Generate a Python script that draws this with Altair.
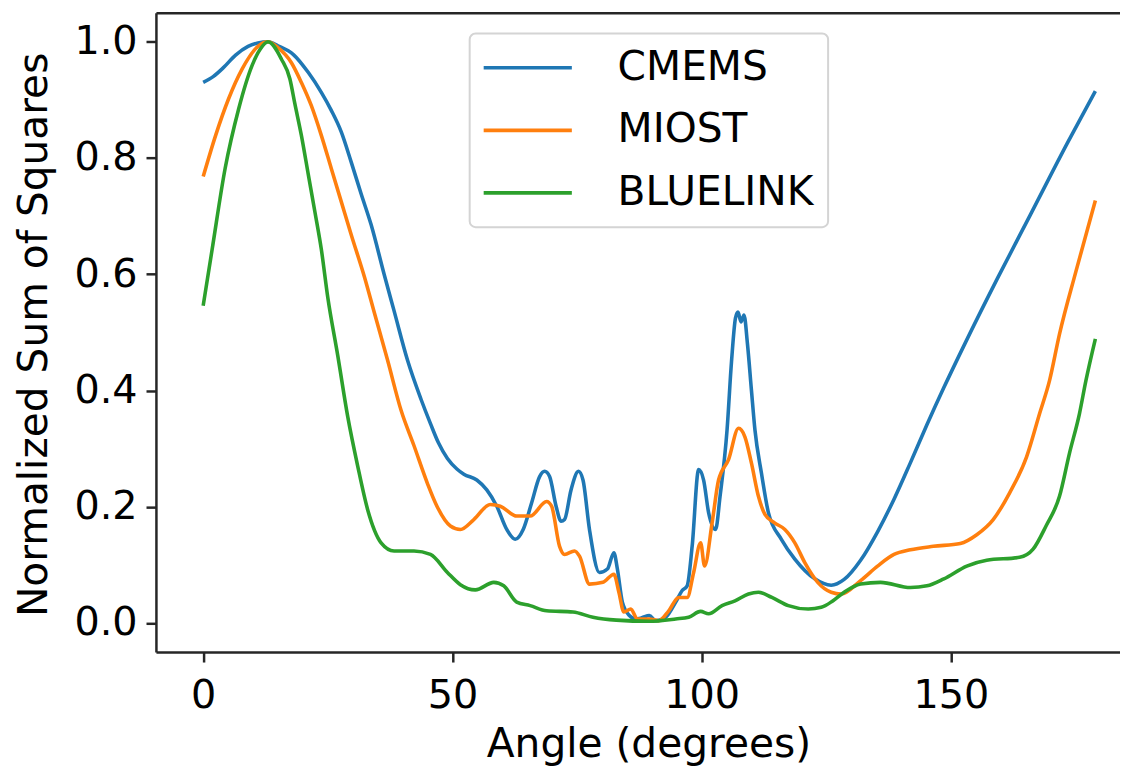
import altair as alt
import pandas as pd

series_names = ["CMEMS", "MIOST", "BLUELINK"]
series_colors = ["#1f77b4", "#ff7f0e", "#2ca02c"]

x_ticks = [0, 50, 100, 150]
y_ticks = [0.0, 0.2, 0.4, 0.6, 0.8, 1.0]

cmems_angle = [0, 2, 4, 6.5, 9, 11, 13, 15, 18.1, 21.1, 23.7, 25.7, 27.7, 29.7, 31.7, 33.7, 36.3,
               38.3, 41, 43.7, 45.6, 47.2, 49, 50.9, 52.3, 54.9, 56.9, 58.9, 60.9, 62.6, 64.2,
               65.9, 67.5, 68.5, 69.5, 70.8, 71.8, 72.5, 73.8, 75.3, 76.2, 77.5, 79.5, 81.1, 82.4,
               83.1, 84.1, 85.5, 86.8, 88, 89.5, 90.8, 92.8, 94.8, 96.1, 97.1, 98.1, 99.4, 100.4,
               101.4, 102.8, 103.7, 105.1, 106, 106.8, 107.3, 107.9, 108.5, 109.2, 110, 110.7, 112,
               113.4, 116, 118.7, 122.7, 126, 128.6, 131.9, 135.3, 138.6, 141.9, 145.2, 148.6,
               152.9, 159.3, 166, 173.4, 179]
cmems_value = [0.930, 0.940, 0.955, 0.977, 0.992, 0.998, 1.000, 0.993, 0.978, 0.947, 0.913, 0.882,
               0.845, 0.793, 0.738, 0.685, 0.600,
               0.537, 0.452, 0.385, 0.343, 0.310, 0.283, 0.265, 0.256, 0.246, 0.229, 0.201, 0.161,
               0.144, 0.161,
               0.207, 0.252, 0.261, 0.252, 0.201, 0.175, 0.178, 0.229, 0.261, 0.246, 0.161, 0.087,
               0.093, 0.121,
               0.093, 0.036, 0.013, 0.007, 0.009, 0.013, 0.004, 0.010, 0.036, 0.056, 0.064, 0.132,
               0.264, 0.246,
               0.190, 0.161, 0.218, 0.332, 0.450, 0.525, 0.535, 0.518, 0.530, 0.480, 0.400, 0.332,
               0.258,
               0.190, 0.144, 0.110, 0.076, 0.065, 0.075, 0.108, 0.157, 0.213, 0.276, 0.341, 0.405,
               0.482, 0.592, 0.703, 0.826, 0.915]

miost_angle = [0, 2.5, 5.1, 7.8, 11.1, 13, 15, 17.7, 19.7, 21.7, 23.7, 25.7, 27.7, 29.7, 32.4,
               34.3, 37, 39.7, 42.3, 45, 46.9, 49.6, 51.6, 54.3, 57.6, 59.6, 62.9, 65.6, 68.9,
               69.9, 71.5, 72.5, 74.5, 75.5, 77.5, 80.2, 82.4, 83.4, 84.4, 85.8, 87.1, 89.5, 91.4,
               93.4, 95.4, 97.1, 98.4, 99.8, 100.6, 102.1, 103.4, 105.4, 107.4, 108.7, 110, 111.4,
               112.7, 114.7, 116.7, 118.7, 120.7, 123.3, 126, 128, 131.9, 135.3, 138.6, 141.9,
               146.5, 151.9, 155.2, 158.5, 161.8, 165.2, 167.8, 169.8, 171.8, 175.1, 179]
miost_value = [0.768, 0.839, 0.902, 0.953, 0.993, 1.000, 0.990, 0.964, 0.930, 0.890, 0.839, 0.782,
               0.725, 0.668, 0.594,
               0.535, 0.452, 0.366, 0.305, 0.240, 0.201, 0.167, 0.161, 0.178, 0.204, 0.201, 0.184,
               0.184, 0.209,
               0.201, 0.132, 0.118, 0.124, 0.115, 0.067, 0.070, 0.084, 0.053, 0.019, 0.024, 0.007,
               0.007, 0.004,
               0.021, 0.044, 0.044, 0.087, 0.138, 0.098, 0.172, 0.246, 0.281, 0.335, 0.320, 0.275,
               0.218,
               0.187, 0.172, 0.161, 0.138, 0.104, 0.070, 0.053, 0.050, 0.073, 0.098, 0.118, 0.126,
               0.132, 0.137, 0.152, 0.178, 0.224, 0.286, 0.360, 0.417, 0.497, 0.605, 0.727]

bluelink_angle = [0, 1.8, 4.4, 7.1, 9.8, 11.5, 13, 15.7, 17.4, 18.4, 19.7, 21.1, 22.4, 23.7, 25,
                  27, 29, 31, 33, 35.7, 38.3, 42.3, 45.6, 49, 51.6, 54.6, 58.3, 60.3, 62.9, 65.6,
                  68.9, 74.2, 78.2, 82.9, 89.5, 94.8, 97.4, 99.8, 101.4, 104.1, 106.7, 109.4,
                  111.4, 114.1, 117.4, 121.4, 124, 126.3, 128.6, 131.9, 135.9, 141.9, 145.2,
                  148.6, 153.2, 157.2, 163.8, 166.5, 169.1, 171.8, 173.8, 175.8, 177.1, 179]
bluelink_value = [0.546, 0.643, 0.782, 0.884, 0.959, 0.988, 1.000, 0.970, 0.936, 0.893, 0.839,
                  0.771, 0.708, 0.643, 0.560,
                  0.460, 0.355, 0.270, 0.195, 0.138, 0.124, 0.124, 0.118, 0.087, 0.066, 0.057,
                  0.070, 0.064, 0.036, 0.030,
                  0.021, 0.019, 0.010, 0.005, 0.003, 0.007, 0.010, 0.020, 0.016, 0.030, 0.038,
                  0.050,
                  0.053, 0.044, 0.030, 0.024, 0.027, 0.038, 0.053, 0.067, 0.070, 0.061, 0.064,
                  0.076, 0.098, 0.108, 0.113, 0.127, 0.167, 0.218, 0.292, 0.360, 0.417, 0.489]

rows = []
for name, angs, vals in [("CMEMS", cmems_angle, cmems_value),
                         ("MIOST", miost_angle, miost_value),
                         ("BLUELINK", bluelink_angle, bluelink_value)]:
    assert len(angs) == len(vals), name
    for i, (a, v) in enumerate(zip(angs, vals)):
        rows.append({"series": name, "angle": a, "value": v, "idx": i})
df = pd.DataFrame(rows)

FONT = "DejaVu Sans"
SPINE = "#262626"

x_scale = alt.Scale(domain=[-9.48, 183.94], nice=False, zero=False)
y_scale = alt.Scale(domain=[-0.05, 1.05], nice=False, zero=False)

lines = alt.Chart(df).mark_line(strokeWidth=3.6, interpolate="monotone").encode(
    x=alt.X("angle:Q", scale=x_scale,
            axis=alt.Axis(values=x_ticks, format="d", title="Angle (degrees)", grid=False,
                          domainColor=SPINE, domainWidth=2.5, tickColor=SPINE, tickWidth=2.5,
                          tickSize=10, labelFontSize=40, labelPadding=14, labelColor="black",
                          labelFont=FONT, titleFont=FONT,
                          titleFontSize=41, titleX=496, titleY=105, titleBaseline="alphabetic",
                          titleColor="black", titleFontWeight="normal", labelFlush=False)),
    y=alt.Y("value:Q", scale=y_scale,
            axis=alt.Axis(values=y_ticks, format=".1f", title="Normalized Sum of Squares",
                          grid=False, domainColor=SPINE, domainWidth=2.5, tickColor=SPINE,
                          tickWidth=2.5, tickSize=10, labelFontSize=40, labelPadding=9,
                          labelFont=FONT, titleFont=FONT,
                          labelColor="black", titleFontSize=41, titleX=-110, titleY=324,
                          titleBaseline="alphabetic", titleColor="black",
                          titleFontWeight="normal", labelFlush=False)),
    color=alt.Color("series:N", scale=alt.Scale(domain=series_names, range=series_colors),
                    legend=alt.Legend(title=None, orient="none", legendX=316, legendY=21,
                                      symbolType="M-2.4,0H2.4", symbolSize=1369,
                                      symbolStrokeWidth=3.6, symbolOffset=24, labelOffset=70,
                                      labelFontSize=41, labelFont=FONT, labelColor="black",
                                      labelLimit=500, rowPadding=21, padding=14,
                                      strokeColor="#d4d4d4", fillColor="white",
                                      cornerRadius=6)),
    order="idx:Q",
)

top_spine = alt.Chart(df).mark_point(opacity=0).encode(
    x=alt.X("angle:Q", scale=x_scale,
            axis=alt.Axis(orient="top", labels=False, ticks=False, grid=False, title=None,
                          domainColor=SPINE, domainWidth=2.5)),
)

chart = alt.layer(lines, top_spine).resolve_axis(x="independent").properties(
    width=971, height=644,
    background="white",
    autosize=alt.AutoSizeParams(type="none"),
    padding={"left": 149, "top": 2, "right": 0, "bottom": 114},
).configure_view(stroke=None).configure_axis(
    labelFont=FONT, titleFont=FONT
).configure_legend(strokeWidth=2, labelFont=FONT)

chart.save("out.html", embed_options={"renderer": "svg", "actions": False})
